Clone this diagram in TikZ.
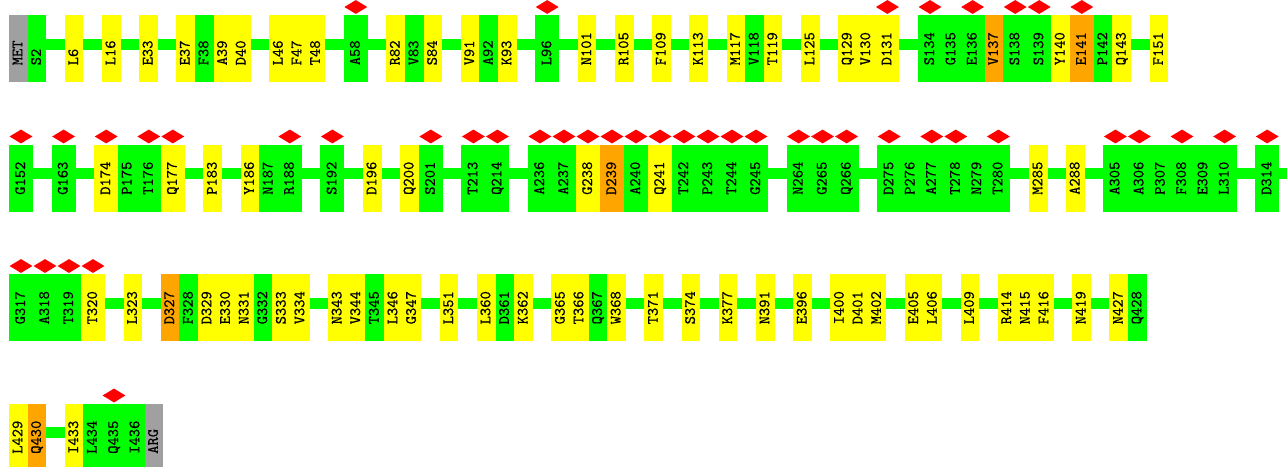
\documentclass[tikz,border=0pt]{standalone}
\usepackage{fontspec}
\newfontfamily\resfont{lmmono10-regular}[Extension=.otf, FakeBold=0.6]
\usetikzlibrary{shapes.geometric,backgrounds}

\definecolor{resgreen}{RGB}{0,255,0}
\definecolor{resyellow}{RGB}{255,255,0}
\definecolor{resorange}{RGB}{255,165,0}
\definecolor{resgray}{RGB}{160,160,160}
\definecolor{sitered}{RGB}{255,0,0}

% one row of residues: #1 = top of the row, #2 = label/colour/type (0 plain, 1 marked, 2 gap)
\newcommand{\residuerow}[2]{%
  \xdef\curx{9}%
  \foreach \lab/\col/\t in {#2}{%
    \ifnum\t=2
      \pgfmathsetmacro\nextx{\curx+18.6}%
    \else
      \ifnum\t=1 \def\w{24}\else\def\w{18.6}\fi
      \node[residue, fill=\col, minimum width=\w pt] (\lab) at (\curx,#1) {};
      \node[reslabel] (t-\lab) at ([xshift=4pt,yshift=16.5pt]\lab.south) {\lab};
      \ifnum\t=1 \node[site] (s-\lab) at ([yshift=8pt]\lab.north) {};\fi
      \pgfmathsetmacro\nextx{\curx+\w}%
    \fi
    \xdef\curx{\nextx}%
  }%
}

\begin{document}
\begin{tikzpicture}[x=1pt, y=-1pt,
    residue/.style={rectangle, draw=none, inner sep=0pt, outer sep=0pt, minimum height=67pt, anchor=north west},
    reslabel/.style={inner sep=0pt, rotate=90, anchor=base west, font=\resfont\fontsize{15.8}{16}\selectfont},
    site/.style={diamond, fill=sitered, inner sep=0pt, minimum width=23pt, minimum height=14pt},
    backbone/.style={resgreen, line width=11pt}]
    \useasboundingbox (0,0) rectangle (1287,466);

    % Row 1
    \residuerow{15}{MET/resgray/0,S2/resgreen/0,-/-/2,L6/resyellow/0,-/-/2,L16/resyellow/0,-/-/2,
      E33/resyellow/0,-/-/2,E37/resyellow/0,F38/resgreen/0,A39/resyellow/0,D40/resyellow/0,-/-/2,
      L46/resyellow/0,F47/resyellow/0,T48/resyellow/0,-/-/2,A58/resgreen/1,-/-/2,
      R82/resyellow/0,V83/resgreen/0,S84/resyellow/0,-/-/2,V91/resyellow/0,A92/resgreen/0,K93/resyellow/0,-/-/2,
      L96/resgreen/1,-/-/2,N101/resyellow/0,-/-/2,R105/resyellow/0,-/-/2,F109/resyellow/0,-/-/2,
      K113/resyellow/0,-/-/2,M117/resyellow/0,V118/resgreen/0,T119/resyellow/0,-/-/2,L125/resyellow/0,-/-/2,
      Q129/resyellow/0,V130/resyellow/0,D131/resyellow/1,-/-/2,
      S134/resgreen/1,G135/resgreen/0,E136/resgreen/1,V137/resorange/0,S138/resgreen/1,S139/resgreen/1,
      Y140/resyellow/0,E141/resorange/1,P142/resgreen/0,Q143/resyellow/0,-/-/2,F151/resyellow/0}

    % Row 2
    \residuerow{144.5}{G152/resgreen/1,-/-/2,G163/resgreen/1,-/-/2,
      D174/resyellow/1,P175/resgreen/0,T176/resgreen/1,Q177/resyellow/1,-/-/2,P183/resyellow/0,-/-/2,
      Y186/resyellow/0,N187/resgreen/0,R188/resgreen/1,-/-/2,S192/resgreen/1,-/-/2,D196/resyellow/0,-/-/2,
      Q200/resyellow/0,S201/resgreen/1,-/-/2,T213/resgreen/1,Q214/resgreen/1,-/-/2,
      A236/resgreen/1,A237/resgreen/1,G238/resyellow/1,D239/resorange/1,A240/resgreen/1,Q241/resyellow/1,
      T242/resgreen/1,P243/resgreen/1,T244/resgreen/1,G245/resgreen/1,-/-/2,
      N264/resgreen/1,G265/resgreen/1,Q266/resgreen/1,-/-/2,
      D275/resgreen/1,P276/resgreen/0,A277/resgreen/1,T278/resgreen/1,N279/resgreen/0,T280/resgreen/1,-/-/2,
      M285/resyellow/0,-/-/2,A288/resyellow/0,-/-/2,
      A305/resgreen/1,A306/resgreen/1,P307/resgreen/0,F308/resgreen/1,E309/resgreen/0,L310/resgreen/1,-/-/2,
      D314/resgreen/1}

    % Row 3
    \residuerow{274}{G317/resgreen/1,A318/resgreen/1,T319/resgreen/1,T320/resyellow/1,-/-/2,L323/resyellow/0,-/-/2,
      D327/resorange/0,F328/resgreen/0,D329/resyellow/0,E330/resyellow/0,N331/resyellow/0,G332/resgreen/0,
      S333/resyellow/0,V334/resyellow/0,-/-/2,
      N343/resyellow/0,V344/resyellow/0,T345/resgreen/0,L346/resyellow/0,G347/resyellow/0,-/-/2,L351/resyellow/0,-/-/2,
      L360/resyellow/0,D361/resgreen/0,K362/resyellow/0,-/-/2,
      G365/resyellow/0,T366/resyellow/0,Q367/resgreen/0,W368/resyellow/0,-/-/2,
      T371/resyellow/0,-/-/2,S374/resyellow/0,-/-/2,K377/resyellow/0,-/-/2,N391/resyellow/0,-/-/2,E396/resyellow/0,-/-/2,
      I400/resyellow/0,D401/resyellow/0,M402/resyellow/0,-/-/2,E405/resyellow/0,L406/resyellow/0,-/-/2,
      L409/resyellow/0,-/-/2,R414/resyellow/0,N415/resyellow/0,F416/resyellow/0,-/-/2,N419/resyellow/0,-/-/2,
      N427/resyellow/0,Q428/resgreen/0}

    % Row 4
    \residuerow{403.5}{L429/resyellow/0,Q430/resorange/0,-/-/2,
      I433/resyellow/0,L434/resgreen/0,Q435/resgreen/1,I436/resgreen/0,ARG/resgray/0}

    % Backbone behind the blocks
    \begin{scope}[on background layer]
      \fill[white] (0,0) rectangle (1287,466);
      \draw[backbone] ([yshift=4.5pt]MET.center) -- ([yshift=4.5pt]F151.center);
      \draw[backbone] ([yshift=4.5pt]G152.center) -- ([yshift=4.5pt]D314.center) -- ++(30,0);
      \draw[backbone] ([yshift=4.5pt]G317.center) -- ([yshift=4.5pt]Q428.center);
      \draw[backbone] ([yshift=4.5pt]L429.center) -- ([yshift=4.5pt]ARG.center);
    \end{scope}
\end{tikzpicture}
\end{document}
